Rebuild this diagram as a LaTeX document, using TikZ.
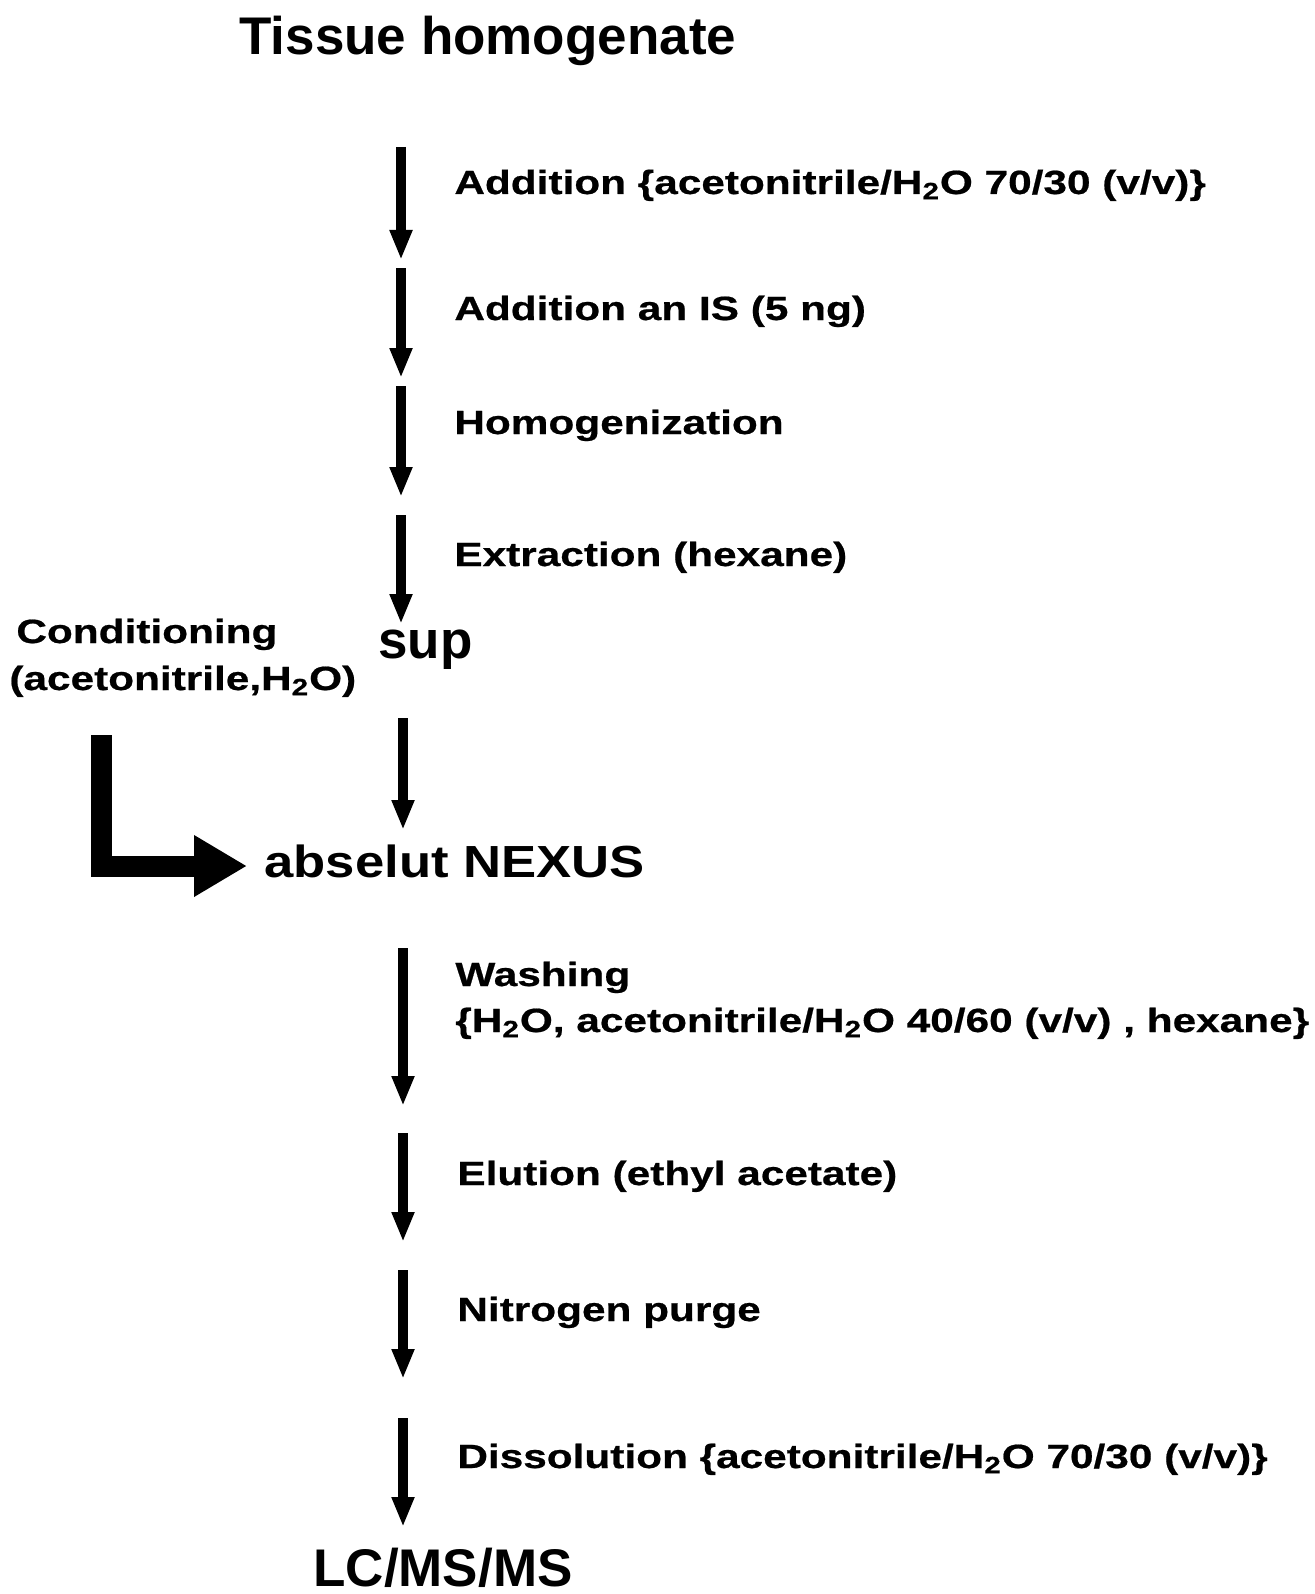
\documentclass[tikz,border=0pt]{standalone}
\usepackage{fontspec}
\usepackage{tikz}
\usetikzlibrary{arrows.meta, positioning}
\newfontfamily\plainfont{Liberation Sans}
\newfontfamily\widefont[FakeStretch=1.26, FakeBold=0.6]{Liberation Sans}
\newfontfamily\midfont[FakeStretch=1.17]{Liberation Sans}
\newcommand{\water}{H\textsubscript{2}O}
\tikzset{
  bigtext/.style={anchor=base west, inner sep=0pt, font=\plainfont\bfseries\fontsize{26.5}{30}\selectfont},
  steptext/.style={anchor=base west, inner sep=0pt, font=\widefont\bfseries\fontsize{16.8}{20}\selectfont},
  columntext/.style={anchor=base west, inner sep=0pt, font=\midfont\bfseries\fontsize{22.5}{26}\selectfont},
  downarrow/.style={line width=5pt, -{Triangle[length=15pt, width=10.5pt]}},
  bentarrow/.style={line width=10.5pt, line join=miter, -{Triangle[length=26.5pt, width=29pt]}}
}

\begin{document}
\begin{tikzpicture}[x=0.5pt, y=-0.5pt]
        \useasboundingbox (0,0) rectangle (1315,1594);
        % texts
        \node [bigtext] (tissue) at (239,55) {Tissue homogenate};
        \node [steptext] (add) at (454,194) {Addition \{acetonitrile/\water{} 70/30 (v/v)\}};
        \node [steptext] (addis) at (454,320) {Addition an IS (5 ng)};
        \node [steptext] (homog) at (454,434) {Homogenization};
        \node [steptext] (extr) at (454,566) {Extraction (hexane)};
        \node [steptext] (cond) at (16,643) {Conditioning};
        \node [steptext] (condsolv) at (9,690) {(acetonitrile,\water)};
        \node [bigtext] (sup) at (378,658) {sup};
        \node [columntext] (nexus) at (264,877) {abselut NEXUS};
        \node [steptext] (wash) at (455,986) {Washing};
        \node [steptext] (washsolv) at (455,1032) {\{\water, acetonitrile/\water{} 40/60 (v/v) , hexane\}};
        \node [steptext] (elut) at (457,1185) {Elution (ethyl acetate)};
        \node [steptext] (purge) at (457,1321) {Nitrogen purge};
        \node [steptext] (dissol) at (457,1468) {Dissolution \{acetonitrile/\water{} 70/30 (v/v)\}};
        \node [bigtext] (lcms) at (313,1586) {LC/MS/MS};
        % arrow ends
        \coordinate (a1) at (401,147);  \coordinate (b1) at (401,260);
        \coordinate (a2) at (401,268);  \coordinate (b2) at (401,378);
        \coordinate (a3) at (401,386);  \coordinate (b3) at (401,497);
        \coordinate (a4) at (401,515);  \coordinate (b4) at (401,624);
        \coordinate (a5) at (403,718);  \coordinate (b5) at (403,830);
        \coordinate (a6) at (403,948);  \coordinate (b6) at (403,1106);
        \coordinate (a7) at (403,1133); \coordinate (b7) at (403,1242);
        \coordinate (a8) at (403,1270); \coordinate (b8) at (403,1379);
        \coordinate (a9) at (403,1418); \coordinate (b9) at (403,1527);
        \coordinate (condstart) at (101,735);
        \coordinate (nexustip) at (247,866);
        % arrows
        \draw [downarrow] (a1) -- (b1);
        \draw [downarrow] (a2) -- (b2);
        \draw [downarrow] (a3) -- (b3);
        \draw [downarrow] (a4) -- (b4);
        \draw [downarrow] (a5) -- (b5);
        \draw [downarrow] (a6) -- (b6);
        \draw [downarrow] (a7) -- (b7);
        \draw [downarrow] (a8) -- (b8);
        \draw [downarrow] (a9) -- (b9);
        \draw [bentarrow] (condstart) |- (nexustip);
\end{tikzpicture}
\end{document}
